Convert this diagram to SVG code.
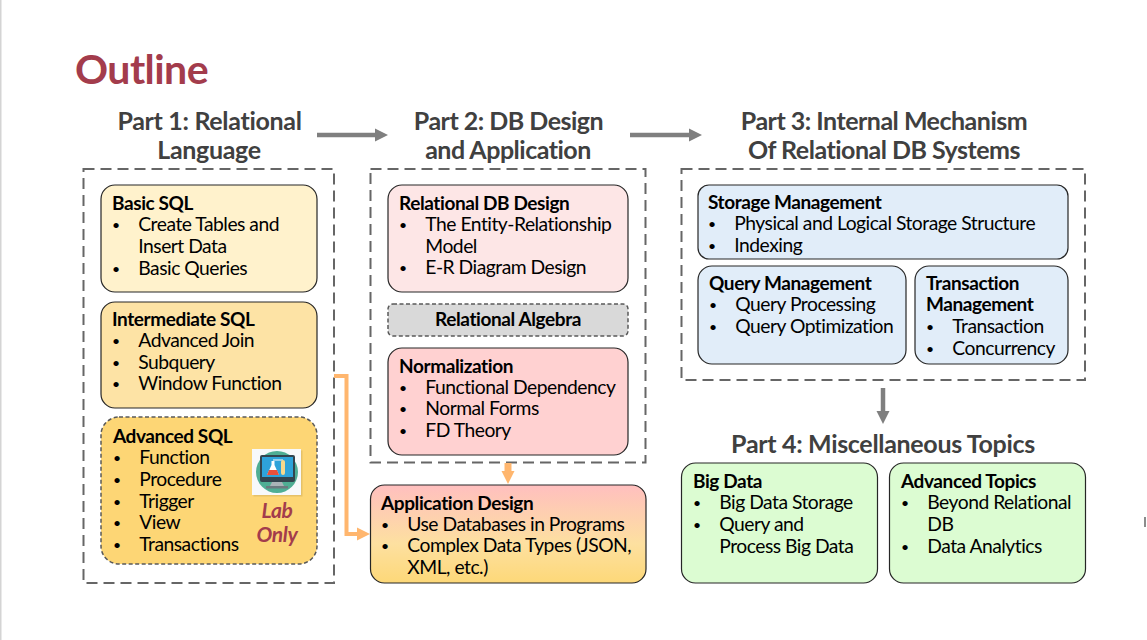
<svg xmlns="http://www.w3.org/2000/svg" width="1147" height="640" viewBox="0 0 1147 640">
<style>
text{font-family:Lato,"Liberation Sans",sans-serif;fill:#000}
.t{font-size:19.3px;font-weight:400;letter-spacing:-.5px;transform:translateX(-.7px)}
.d{font-size:14px;font-weight:400;transform:translateY(-1.5px)}
.b{font-size:19px;font-weight:700;letter-spacing:-.4px}
.h{font-size:25px;font-weight:700;fill:#404040;text-anchor:middle;letter-spacing:-.32px}
.h2{letter-spacing:-.5px}
.box{stroke:#262626;stroke-width:1.2}
.frame{fill:none;stroke:#666;stroke-width:2;stroke-dasharray:11 6}
.conn{fill:none;stroke:#7f7f7f;stroke-width:4.5}
.or{fill:none;stroke:#ffb66e;stroke-width:4}
.lab{font-size:21px;font-style:italic;font-weight:700;text-anchor:middle;fill:#a33c4c;letter-spacing:-.3px}
</style>
<defs>
<linearGradient id="appg" x1="0" y1="0" x2="0" y2="1"><stop offset="0" stop-color="#ffbfbf"/><stop offset=".6" stop-color="#fde0a0"/><stop offset="1" stop-color="#fdd878"/></linearGradient>
<marker id="ag" markerUnits="userSpaceOnUse" markerWidth="13" markerHeight="14" refX="0" refY="7" orient="auto"><path d="M0 0.500L13 7L0 13.500Z" fill="#7f7f7f"/></marker>
<marker id="ao" markerUnits="userSpaceOnUse" markerWidth="13" markerHeight="14" refX="0" refY="7" orient="auto"><path d="M0 0.500L13 7L0 13.500Z" fill="#ffb66e"/></marker>
</defs>
<rect width="1147" height="640" fill="#fff"/>
<rect x="0" y="0" width="1.5" height="640" fill="#d4d4d4"/>
<rect x="1144" y="517" width="2" height="10" fill="#8c8c8c"/>
<text id="title" x="75" y="83.500" font-size="41" font-weight="700" style="fill:#a33c4c;letter-spacing:-.55px">Outline</text>
<text class="h" x="209.500" y="130">Part 1: Relational</text><text class="h" x="209" y="159">Language</text>
<text class="h h2" x="508.500" y="130">Part 2: DB Design</text><text class="h h2" x="508" y="159">and Application</text>
<text class="h h2" x="884" y="130">Part 3: Internal Mechanism</text><text class="h h2" x="884" y="159">Of Relational DB Systems</text>
<text class="h" x="883" y="453">Part 4: Miscellaneous Topics</text>
<rect class="frame" x="83.500" y="169" width="250.500" height="414"/>
<rect class="frame" x="370.500" y="169" width="275" height="293.500"/>
<rect class="frame" x="681.500" y="169" width="403.500" height="211"/>
<g id="connectors">
<path class="conn" d="M317 135H375" marker-end="url(#ag)"/>
<path class="conn" d="M630 135H689" marker-end="url(#ag)"/>
<path class="conn" d="M883 388V411" marker-end="url(#ag)"/>
<path class="or" d="M334 376H346.500V534H357" marker-end="url(#ao)"/>
<path class="or" style="stroke-width:7" d="M508 463V471" marker-end="url(#ao)"/>
</g>
<g id="basic-sql"><rect class="box" x="101" y="185" width="216" height="107" rx="14" fill="#fff2cc"/>
<text class="b" x="112" y="210">Basic SQL</text><text class="d" x="112" y="231">•</text><text class="t" x="139" y="231">Create Tables and</text><text class="t" x="139" y="253">Insert Data</text><text class="d" x="112" y="275">•</text><text class="t" x="139" y="275">Basic Queries</text></g>
<g id="intermediate-sql"><rect class="box" x="101" y="302" width="216" height="106" rx="14" fill="#fde3a5"/>
<text class="b" x="112" y="326">Intermediate SQL</text><text class="d" x="112" y="347">•</text><text class="t" x="139" y="347">Advanced Join</text><text class="d" x="112" y="369">•</text><text class="t" x="139" y="369">Subquery</text><text class="d" x="112" y="390">•</text><text class="t" x="139" y="390">Window Function</text></g>
<g id="advanced-sql"><rect x="101" y="417" width="216" height="147" rx="18" fill="#fdd675" stroke="#595959" stroke-width="1.500" stroke-dasharray="4 2.500"/>
<text class="b" x="113" y="443">Advanced SQL</text><text class="d" x="113" y="464">•</text><text class="t" x="140" y="464">Function</text><text class="d" x="113" y="486">•</text><text class="t" x="140" y="486">Procedure</text><text class="d" x="113" y="508">•</text><text class="t" x="140" y="508">Trigger</text><text class="d" x="113" y="529">•</text><text class="t" x="140" y="529">View</text><text class="d" x="113" y="551">•</text><text class="t" x="140" y="551">Transactions</text>
<rect x="253.500" y="450.500" width="49" height="46" fill="#c9a85c" opacity=".45"/>
<rect x="252" y="449" width="49" height="46" fill="#f7f9fb"/>
<circle cx="277" cy="472" r="21" fill="#4fae94"/>
<rect x="260" y="455" width="35" height="27" rx="2" fill="#33454f"/>
<rect x="262" y="457" width="31" height="20" fill="#2ea3da"/>
<path d="M272 482H282L284 486H270Z" fill="#aab4b8"/><rect x="266" y="486" width="22" height="2.500" fill="#6c7a80"/>
<path d="M271.500 461H274.500V465L279 475H267L271.500 465Z" fill="#fff"/><path d="M269 470H277L279 475H267Z" fill="#e8503a"/>
<path d="M273 460H283" stroke="#fff" stroke-width="1" fill="none"/>
<rect x="281" y="460" width="4" height="15" rx="2" fill="#f7d98c"/>
<text class="lab" x="277" y="517.500">Lab</text>
<text class="lab" x="277" y="542">Only</text></g>
<g id="relational-db-design"><rect class="box" x="388" y="185" width="240" height="107" rx="14" fill="#fde6e6"/>
<text class="b" x="399" y="210">Relational DB Design</text><text class="d" x="399" y="231">•</text><text class="t" x="426" y="231">The Entity-Relationship</text><text class="t" x="426" y="253">Model</text><text class="d" x="399" y="274">•</text><text class="t" x="426" y="274">E-R Diagram Design</text></g>
<g id="relational-algebra"><rect x="388" y="304" width="240" height="32" rx="5" fill="#d9d9d9" stroke="#595959" stroke-width="1.500" stroke-dasharray="4 2.500"/>
<text class="b" x="508" y="326" text-anchor="middle">Relational Algebra</text></g>
<g id="normalization"><rect class="box" x="388" y="348" width="240" height="107" rx="14" fill="#ffd1d1"/>
<text class="b" x="399" y="373">Normalization</text><text class="d" x="399" y="394">•</text><text class="t" x="426" y="394">Functional Dependency</text><text class="d" x="399" y="415">•</text><text class="t" x="426" y="415">Normal Forms</text><text class="d" x="399" y="437">•</text><text class="t" x="426" y="437">FD Theory</text></g>
<g id="application-design"><rect class="box" x="370.500" y="485" width="275.500" height="98" rx="14" fill="url(#appg)"/>
<text class="b" x="381" y="510">Application Design</text><text class="d" x="381" y="531">•</text><text class="t" x="408" y="531">Use Databases in Programs</text><text class="d" x="381" y="552">•</text><text class="t" x="408" y="552">Complex Data Types (JSON,</text><text class="t" x="408" y="574">XML, etc.)</text></g>
<g id="storage-management"><rect class="box" x="698" y="185" width="370" height="74" rx="11" fill="#e1edf9"/>
<text class="b" x="708" y="209">Storage Management</text><text class="d" x="708" y="230">•</text><text class="t" x="735" y="230">Physical and Logical Storage Structure</text><text class="d" x="708" y="252">•</text><text class="t" x="735" y="252">Indexing</text></g>
<g id="query-management"><rect class="box" x="698" y="266" width="208" height="98" rx="14" fill="#e1edf9"/>
<text class="b" x="709" y="290">Query Management</text><text class="d" x="709" y="311">•</text><text class="t" x="736" y="311">Query Processing</text><text class="d" x="709" y="333">•</text><text class="t" x="736" y="333">Query Optimization</text></g>
<g id="transaction-management"><rect class="box" x="915" y="266" width="153" height="98" rx="14" fill="#e1edf9"/>
<text class="b" x="926" y="290">Transaction</text><text class="b" x="926" y="311">Management</text><text class="d" x="926" y="333">•</text><text class="t" x="953" y="333">Transaction</text><text class="d" x="926" y="355">•</text><text class="t" x="953" y="355">Concurrency</text></g>
<g id="big-data"><rect class="box" x="681.500" y="463" width="196" height="120" rx="14" fill="#dcfcd2"/>
<text class="b" x="693" y="488">Big Data</text><text class="d" x="693" y="509">•</text><text class="t" x="720" y="509">Big Data Storage</text><text class="d" x="693" y="531">•</text><text class="t" x="720" y="531">Query and</text><text class="t" x="720" y="553">Process Big Data</text></g>
<g id="advanced-topics"><rect class="box" x="889.500" y="463" width="196" height="120" rx="14" fill="#dcfcd2"/>
<text class="b" x="901" y="488">Advanced Topics</text><text class="d" x="901" y="509">•</text><text class="t" x="928" y="509">Beyond Relational</text><text class="t" x="928" y="531">DB</text><text class="d" x="901" y="553">•</text><text class="t" x="928" y="553">Data Analytics</text></g>
</svg>
